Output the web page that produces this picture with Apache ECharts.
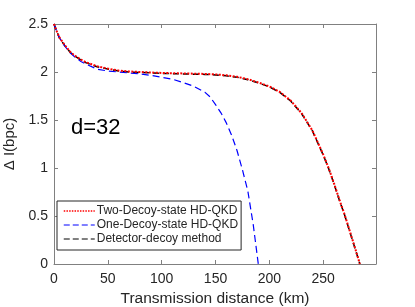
<!DOCTYPE html>
<html><head><meta charset="utf-8">
<script src="https://cdn.jsdelivr.net/npm/echarts@6/dist/echarts.min.js"></script>
<style>html,body{margin:0;padding:0;background:#fff}#c{width:415px;height:307px}</style>
</head><body><div id="c"></div>
<script>
const seriesNames = ['Two-Decoy-state HD-QKD', 'One-Decoy-state HD-QKD', 'Detector-decoy method'];
const twoDecoyX = [0,2,5,10,15,20,25,30,40,50,60,70,80,100,120,140,150,160,170,180,190,200,210,220,230,240,250,255,260,265,270,275,280,284];
const twoDecoyY = [2.5,2.44,2.36,2.28,2.21,2.165,2.13,2.10,2.06,2.035,2.015,2.005,2.0,1.99,1.985,1.98,1.975,1.965,1.95,1.925,1.89,1.85,1.79,1.70,1.57,1.39,1.14,1.00,0.84,0.67,0.51,0.33,0.15,0.0];
const oneDecoyX = [0,2,5,10,15,20,25,30,40,50,60,70,80,90,100,110,120,130,140,145,150,155,160,165,170,175,180,185,189.7];
const oneDecoyY = [2.5,2.44,2.355,2.27,2.20,2.15,2.11,2.08,2.03,2.01,2.0,1.99,1.98,1.965,1.945,1.925,1.89,1.85,1.79,1.74,1.66,1.575,1.47,1.34,1.18,0.98,0.76,0.41,0.0];
const detectorX = [0,2,5,10,15,20,25,30,40,50,60,70,80,100,120,140,150,160,170,180,190,200,210,220,230,240,250,255,260,265,270,275,280,284];
const detectorY = [2.5,2.44,2.355,2.275,2.205,2.16,2.125,2.095,2.055,2.03,2.01,2.0,1.995,1.985,1.98,1.975,1.97,1.96,1.945,1.92,1.885,1.845,1.785,1.695,1.565,1.385,1.135,0.995,0.835,0.665,0.505,0.325,0.145,0.0];
const xTicks = [0,50,100,150,200,250];
const yTicks = [0,0.5,1,1.5,2,2.5];

function pairs(xs, ys){ return xs.map((x,i)=>[x, ys[i]]); }

const chart = echarts.init(document.getElementById('c'));
const axisCol = '#808080';
const txtCol = '#262626';
const font = 'Liberation Sans, Arial, Helvetica, sans-serif';
chart.setOption({
  animation: false,
  textStyle: {fontFamily: font},
  grid: {left: 54, right: 39, top: 24, bottom: 43, containLabel: false, outerBoundsMode: 'none'},
  xAxis: [{
    type: 'value', min: 0, max: 299, interval: 50,
    axisLine: {show: true, onZero: false, lineStyle: {color: axisCol, width: 1}},
    axisTick: {show: true, inside: true, length: 4, lineStyle: {color: axisCol}},
    axisLabel: {show: true, showMaxLabel: false, color: txtCol, fontSize: 14, margin: 8, fontFamily: font},
    splitLine: {show: false},
    name: 'Transmission distance (km)', nameLocation: 'middle', nameGap: 27,
    nameTextStyle: {color: txtCol, fontSize: 15.5, fontFamily: font}
  }, {
    type: 'value', min: 0, max: 299, interval: 50, position: 'top',
    axisLine: {show: true, onZero: false, lineStyle: {color: axisCol, width: 1}},
    axisTick: {show: true, inside: true, length: 4, lineStyle: {color: axisCol}},
    axisLabel: {show: false}, splitLine: {show: false}
  }],
  yAxis: [{
    type: 'value', min: 0, max: 2.5, interval: 0.5,
    axisLine: {show: true, onZero: false, lineStyle: {color: axisCol, width: 1}},
    axisTick: {show: true, inside: true, length: 4, lineStyle: {color: axisCol}},
    axisLabel: {show: true, color: txtCol, fontSize: 14, margin: 6, fontFamily: font},
    splitLine: {show: false},
    name: 'Δ I(bpc)', nameLocation: 'middle', nameGap: 30, nameRotate: 90,
    nameTextStyle: {color: txtCol, fontSize: 15, fontFamily: font}
  }, {
    type: 'value', min: 0, max: 2.5, interval: 0.5, position: 'right',
    axisLine: {show: true, onZero: false, lineStyle: {color: axisCol, width: 1}},
    axisTick: {show: true, inside: true, length: 4, lineStyle: {color: axisCol}},
    axisLabel: {show: false}, splitLine: {show: false}
  }],
  legend: {
    orient: 'vertical', left: 57, top: 201,
    padding: [4, 3, 5, 6], itemGap: 2, itemWidth: 31, itemHeight: 14,
    borderColor: '#262626', borderWidth: 1, backgroundColor: '#fff',
    itemStyle: {opacity: 0},
    textStyle: {color: txtCol, fontSize: 12, fontFamily: font, padding: [0,0,0,-3]},
    data: [
      {name: seriesNames[0], lineStyle: {width: 1.5, type: [1.5, 1.2], color: '#ff0000'}},
      {name: seriesNames[1], lineStyle: {width: 1, type: [6, 3], color: '#0000ff'}},
      {name: seriesNames[2], lineStyle: {width: 1, type: [6, 3], color: '#000'}}
    ]
  },
  graphic: [{
    type: 'text', left: 71, top: 117,
    style: {text: 'd=32', font: '22px Liberation Sans, Arial, sans-serif', fill: '#000'}
  }],
  series: [{
    name: seriesNames[2], type: 'line', data: pairs(detectorX, detectorY),
    symbol: 'none', smooth: false, z: 2,
    lineStyle: {color: '#000', width: 1.5, type: [6, 4]}, itemStyle: {color: '#000'}
  }, {
    name: seriesNames[1], type: 'line', data: pairs(oneDecoyX, oneDecoyY),
    symbol: 'none', z: 3,
    lineStyle: {color: '#0000ff', width: 1.2, type: [7, 4]}, itemStyle: {color: '#0000ff'}
  }, {
    name: seriesNames[0], type: 'line', data: pairs(twoDecoyX, twoDecoyY),
    symbol: 'none', z: 4,
    lineStyle: {color: '#ff0000', width: 2, type: [2, 1.5]}, itemStyle: {color: '#ff0000'}
  }]
});
</script></body></html>
